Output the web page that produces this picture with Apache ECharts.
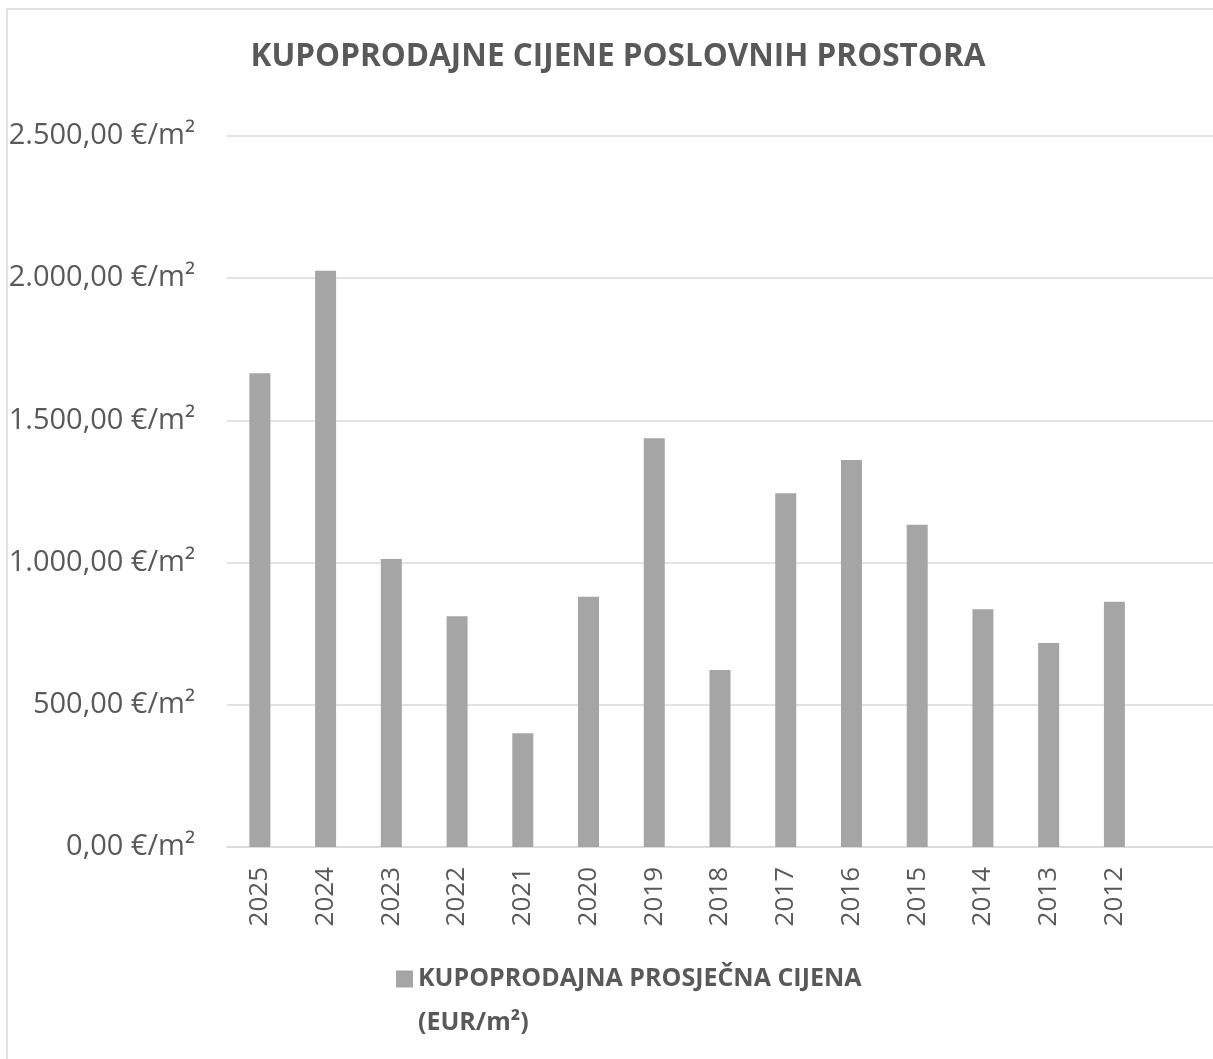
<!DOCTYPE html>
<html>
<head>
<meta charset="utf-8">
<script src="https://cdn.jsdelivr.net/npm/echarts@6/dist/echarts.min.js"></script>
<style>
  html, body { margin: 0; padding: 0; background: #fff; }
  #chart { width: 1213px; height: 1059px; }
</style>
</head>
<body>
<div id="chart"></div>
<script>
// podaci s grafikona
const years = ["2025", "2024", "2023", "2022", "2021", "2020", "2019", "2018", "2017", "2016", "2015", "2014", "2013", "2012"];
const prices = [1666, 2026, 1013, 811, 400, 880, 1437, 622, 1244, 1361, 1133, 836, 717, 862];
const seriesName = "KUPOPRODAJNA PROSJEČNA CIJENA\n(EUR/m²)";
const titleText = "KUPOPRODAJNE CIJENE POSLOVNIH PROSTORA";

const textColor = "#595959";
const font = "'Open Sans', sans-serif";

// 2500 -> "2.500,00 €/m²"
function formatEur(v) {
  const s = Math.round(v).toString().replace(/\B(?=(\d{3})+(?!\d))/g, ".");
  return s + ",00 €/m²";
}

const chart = echarts.init(document.getElementById("chart"), null, { renderer: "canvas" });

chart.setOption({
  backgroundColor: "#ffffff",
  animation: false,
  title: {
    text: titleText,
    left: 613,
    top: 36,
    textAlign: "center",
    textStyle: { color: textColor, fontFamily: font, fontWeight: "bold", fontSize: 31.5 }
  },
  graphic: [{
    type: "rect",
    shape: { x: 7, y: 9, width: 1300, height: 1200 },
    style: { fill: null, stroke: "#d9d9d9", lineWidth: 1.5 },
    silent: true
  }],
  legend: {
    left: 396,
    top: 913,
    padding: 0,
    itemWidth: 17,
    itemHeight: 17,
    itemGap: 10,
    icon: "rect",
    data: [seriesName],
    // prazan prvi red da kvadratić stoji uz prvi red teksta
    formatter: function (name) { return "\n" + name; },
    textStyle: {
      color: textColor, fontFamily: font, fontWeight: "bold", fontSize: 25,
      lineHeight: 44
    }
  },
  grid: { left: 227, right: -4, top: 136, bottom: 212, containLabel: false },
  xAxis: {
    type: "category",
    data: years.concat([""]),
    axisLine: { lineStyle: { color: "#d9d9d9", width: 1.5 } },
    axisTick: { show: false },
    axisLabel: { rotate: 90, margin: 20, color: textColor, fontFamily: font, fontSize: 26, interval: 0 }
  },
  yAxis: {
    type: "value",
    min: 0,
    max: 2500,
    interval: 500,
    axisLine: { show: false },
    axisTick: { show: false },
    splitLine: { lineStyle: { color: "#d9d9d9", width: 1.5 } },
    axisLabel: { margin: 32, color: textColor, fontFamily: font, fontSize: 29, formatter: formatEur }
  },
  series: [{
    name: seriesName,
    type: "bar",
    data: prices,
    barWidth: 21,
    itemStyle: { color: "#a5a5a5" }
  }]
});
</script>
</body>
</html>
